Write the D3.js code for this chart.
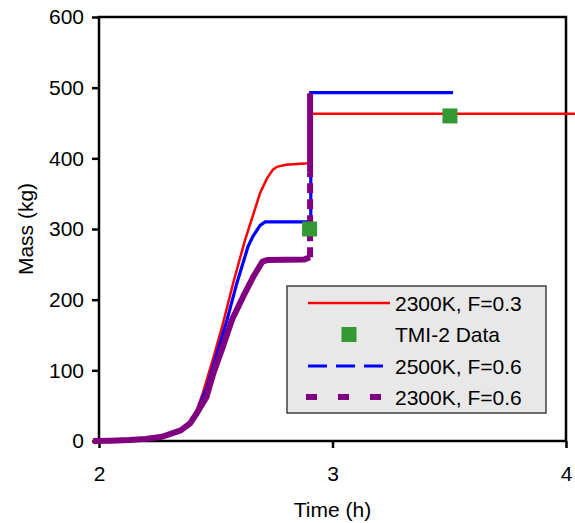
<!DOCTYPE html>
<html><head><meta charset="utf-8">
<script src="https://cdn.jsdelivr.net/npm/d3@7"></script>
<style>body{margin:0;background:#fff}svg{display:block;font-family:"Liberation Sans",Arial,sans-serif}</style>
</head><body><svg id="c" width="575" height="523"></svg>
<script>
// ---- data ----
const xTicks = [2, 3, 4];
const yTicks = [0, 100, 200, 300, 400, 500, 600];
const seriesNames = ["2300K, F=0.3", "TMI-2 Data", "2500K, F=0.6", "2300K, F=0.6"];

const redT = [1.972, 2.05, 2.13, 2.2, 2.27, 2.35, 2.39, 2.42, 2.445, 2.49, 2.53, 2.575, 2.625, 2.69, 2.72, 2.745, 2.762, 2.80, 2.895, 2.905, 2.905, 4.04];
const redM = [0, 0.5, 1.5, 3, 6, 15, 25, 45, 68, 118, 165, 224, 284, 351, 372, 384, 388, 391, 393, 395, 463, 463];

const tmiT = [2.902, 3.503];
const tmiM = [300, 460];

const blueT = [1.975, 2.05, 2.13, 2.2, 2.27, 2.35, 2.39, 2.42, 2.462, 2.505, 2.548, 2.591, 2.638, 2.66, 2.69, 2.711, 2.90, 2.907, 2.907, 3.516];
const blueM = [0, 0.5, 1.5, 3, 6, 15, 25, 42, 76, 124, 171, 224, 275, 290, 305, 310, 310, 311, 493, 493];

const purpleT = [1.975, 2.05, 2.13, 2.2, 2.27, 2.35, 2.39, 2.42, 2.46, 2.49, 2.53, 2.57, 2.62, 2.66, 2.70, 2.72, 2.88, 2.895, 2.904];
const purpleM = [0, 0.5, 1.5, 3, 6, 15, 25, 40, 62, 96, 133, 172, 206, 232, 254, 256, 257, 259, 260];
const purpleJumpT = [2.904, 2.904];
const purpleJumpM = [260, 380];
const purpleTopT = [2.904, 2.904];
const purpleTopM = [380, 492];

// ---- chart ----
const FS = 21;
const svg = d3.select("#c");
const x = d3.scaleLinear().domain([2, 4]).range([99, 566]);
const y = d3.scaleLinear().domain([0, 600]).range([441, 17]);
const zip = (T, M) => T.map((t, i) => [t, M[i]]);
const line = d3.line().x(d => x(d[0])).y(d => y(d[1]));

// frame
svg.append("rect").attr("x", x(2)).attr("y", y(600)).attr("width", x(4) - x(2)).attr("height", y(0) - y(600))
  .attr("fill", "none").attr("stroke", "#000").attr("stroke-width", 2.5);

// axes
const yAxis = svg.append("g").attr("transform", `translate(${x(2)},0)`)
  .call(d3.axisLeft(y).tickValues(yTicks).tickSize(7).tickPadding(8).tickFormat(d3.format("d")));
const xAxis = svg.append("g").attr("transform", `translate(0,${y(0)})`)
  .call(d3.axisBottom(x).tickValues(xTicks).tickSize(7).tickPadding(18).tickFormat(d3.format("d")));
[yAxis, xAxis].forEach(a => {
  a.select(".domain").remove();
  a.selectAll(".tick line").attr("stroke", "#000").attr("stroke-width", 2.5);
  a.selectAll(".tick text").attr("font-size", FS).attr("fill", "#000").attr("font-family", "Liberation Sans, Arial, sans-serif");
});

svg.append("text").attr("x", x(3)).attr("y", 517).attr("text-anchor", "middle")
  .attr("font-size", FS).text("Time (h)");
svg.append("text").attr("transform", "translate(33,229) rotate(-90)").attr("text-anchor", "middle")
  .attr("font-size", FS).text("Mass (kg)");

// series
svg.append("path").datum(zip(redT, redM)).attr("d", line).attr("fill", "none")
  .attr("stroke", "#ff0000").attr("stroke-width", 2.5);
svg.append("path").datum(zip(blueT, blueM)).attr("d", line).attr("fill", "none")
  .attr("stroke", "#0000ff").attr("stroke-width", 3.2);
svg.append("path").datum(zip(purpleT, purpleM)).attr("d", line).attr("fill", "none")
  .attr("stroke", "#800080").attr("stroke-width", 6).attr("stroke-linejoin", "round");
svg.append("path").datum(zip(purpleJumpT, purpleJumpM)).attr("d", line).attr("fill", "none")
  .attr("stroke", "#800080").attr("stroke-width", 6).attr("stroke-dasharray", "10,6");
svg.append("path").datum(zip(purpleTopT, purpleTopM)).attr("d", line).attr("fill", "none")
  .attr("stroke", "#800080").attr("stroke-width", 6);

// markers
const ms = 15;
svg.selectAll("rect.tmi").data(zip(tmiT, tmiM)).enter().append("rect").attr("class", "tmi")
  .attr("x", d => x(d[0]) - ms / 2).attr("y", d => y(d[1]) - ms / 2)
  .attr("width", ms).attr("height", ms).attr("fill", "#339933");

// legend
const lg = svg.append("g");
lg.append("rect").attr("x", 287).attr("y", 286).attr("width", 259).attr("height", 127)
  .attr("fill", "#e8e8e8").attr("stroke", "#404040").attr("stroke-width", 1.5);
const rows = [303, 334.5, 366, 397];
lg.append("line").attr("x1", 308).attr("x2", 390).attr("y1", rows[0]).attr("y2", rows[0])
  .attr("stroke", "#ff0000").attr("stroke-width", 2.5);
lg.append("rect").attr("x", 349 - ms / 2).attr("y", rows[1] - ms / 2).attr("width", ms).attr("height", ms)
  .attr("fill", "#339933");
lg.append("line").attr("x1", 308).attr("x2", 384).attr("y1", rows[2]).attr("y2", rows[2])
  .attr("stroke", "#0000ff").attr("stroke-width", 3.2).attr("stroke-dasharray", "19,9");
lg.append("line").attr("x1", 306).attr("x2", 381).attr("y1", rows[3]).attr("y2", rows[3])
  .attr("stroke", "#800080").attr("stroke-width", 6).attr("stroke-dasharray", "11,21");
seriesNames.forEach((n, i) => {
  lg.append("text").attr("x", 395).attr("y", rows[i] + 7.5).attr("font-size", FS).text(n);
});
</script></body></html>
